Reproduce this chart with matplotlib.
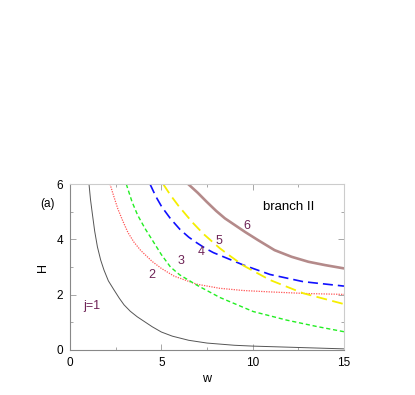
import matplotlib
matplotlib.use('Agg')
import matplotlib.pyplot as plt
import matplotlib.ticker as ticker

plt.rcParams['font.family'] = ['Liberation Sans', 'DejaVu Sans']
label_color = '#6e2356'

# curve j=1
w1 = [1.04, 1.12, 1.22, 1.35, 1.5, 1.68, 1.86, 2.1, 2.41, 2.7, 2.96, 3.3, 3.68, 4.5, 5.0, 5.6,
      6.5, 7.5, 9.0, 10.0, 12.0, 15.0]
h1 = [6.0, 5.45, 4.94, 4.3, 3.73, 3.25, 2.89, 2.5, 2.17, 1.87, 1.63, 1.4, 1.2, 0.84, 0.65, 0.5,
      0.35, 0.25, 0.17, 0.14, 0.1, 0.04]
# curve 2
w2 = [2.19, 2.4, 2.62, 2.9, 3.17, 3.5, 3.87, 4.5, 5.0, 5.7, 6.93, 8.2, 9.5, 10.95, 13.0, 15.0]
h2 = [6.0, 5.55, 5.1, 4.65, 4.25, 3.9, 3.6, 3.2, 2.95, 2.67, 2.38, 2.23, 2.15, 2.1, 2.04, 2.01]
# curve 3
w3 = [3.08, 3.4, 3.7, 4.1, 4.5, 5.0, 5.5, 6.0, 6.93, 8.2, 10.03, 11.86, 13.5, 15.0]
h3 = [6.0, 5.35, 4.88, 4.4, 3.98, 3.45, 3.0, 2.72, 2.35, 1.9, 1.39, 1.08, 0.85, 0.66]
# curve 4
w4 = [4.38, 4.7, 5.02, 5.5, 6.02, 6.5, 6.93, 7.4, 7.85, 8.66, 9.5, 10.95, 12.77, 15.0]
h4 = [6.0, 5.55, 5.18, 4.75, 4.36, 4.08, 3.88, 3.68, 3.52, 3.3, 3.07, 2.73, 2.47, 2.31]
# curve 5
w5 = [5.1, 5.5, 5.93, 6.4, 6.75, 7.3, 7.85, 8.2, 8.66, 9.5, 10.95, 12.77, 15.0]
h5 = [6.0, 5.6, 5.22, 4.85, 4.58, 4.2, 3.88, 3.68, 3.45, 3.05, 2.53, 2.05, 1.66]
# curve 6
w6 = [6.47, 7.0, 7.48, 8.0, 8.48, 9.58, 10.3, 11.2, 12.13, 13.05, 13.96, 15.0]
h6 = [6.0, 5.68, 5.36, 5.03, 4.76, 4.27, 3.97, 3.61, 3.37, 3.19, 3.07, 2.95]

labels = ['j=1', '2', '3', '4', '5', '6']
label_x = [1.2, 4.5, 6.1, 7.17, 8.17, 9.7]
label_y = [1.59, 2.7, 3.22, 3.55, 3.95, 4.48]

fig = plt.figure(figsize=(4.15, 3.95), dpi=100)
ax = fig.add_axes([0.1687, 0.114, 0.6602, 0.420])

ax.plot(w1, h1, color='#555555', lw=0.7)
ax.plot(w2, h2, color='#ff5555', lw=0.9, linestyle=(0, (1, 1)))
ax.plot(w3, h3, color='#22ee22', lw=1.0, linestyle=(0, (3, 2)))
ax.plot(w4, h4, color='#1010ff', lw=1.2, linestyle=(0, (6, 3)))
ax.plot(w5, h5, color='#f5ee00', lw=1.3, linestyle=(0, (6, 3)))
ax.plot(w6, h6, color='#b48a8a', lw=1.9)

for t, x, y in zip(labels, label_x, label_y):
    ax.text(x, y, t, color=label_color, fontsize=9, ha='center', va='center')
ax.text(11.95, 5.18, 'branch II', color='black', fontsize=9.5, ha='center', va='center')
ax.text(-1.25, 5.28, '(a)', fontsize=8.5, ha='center', va='center', clip_on=False)

ax.set_xlim(0, 15)
ax.set_ylim(0, 6)
ax.xaxis.set_major_locator(ticker.MultipleLocator(5))
ax.xaxis.set_minor_locator(ticker.MultipleLocator(2.5))
ax.yaxis.set_major_locator(ticker.MultipleLocator(2))
ax.yaxis.set_minor_locator(ticker.MultipleLocator(1))
ax.tick_params(which='both', direction='in', top=True, right=True, color='#999999', labelsize=8.5)
ax.tick_params(which='major', length=4, width=0.6, pad=5)
ax.tick_params(which='minor', length=2, width=0.6)
for s in ['left', 'bottom']:
    ax.spines[s].set_color('#888888')
for s in ['top', 'right']:
    ax.spines[s].set_color('#cccccc')
for s in ax.spines.values():
    s.set_linewidth(0.8)

ax.set_xlabel('w', fontsize=9, labelpad=3)
ax.set_ylabel('H', fontsize=9, labelpad=5)

plt.savefig('out.png', dpi=100)
